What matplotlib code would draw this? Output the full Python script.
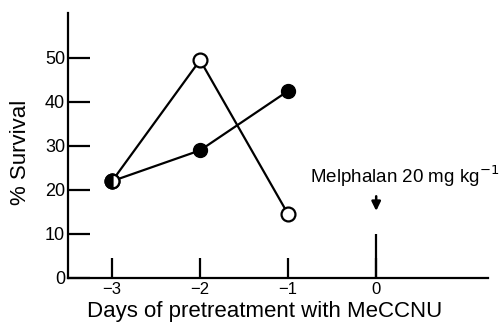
import matplotlib.pyplot as plt

plt.rcParams['font.family'] = ['Liberation Sans', 'DejaVu Sans']

days = [-3, -2, -1]
open_survival = [22, 49.5, 14.5]
filled_survival = [22, 29, 42.5]
x_ticks = [-3, -2, -1, 0]
y_ticks = [0, 10, 20, 30, 40, 50]

fig = plt.figure(figsize=(5.04, 3.27), dpi=100)
ax = fig.add_axes([68/504, 1-278/327, (488-68)/504, (278-13)/327])

ax.plot(days, open_survival, color='black', lw=1.6, marker='o', ms=10,
        mfc='white', mec='black', mew=1.6, zorder=3)
ax.plot(days[1:], filled_survival[1:], color='black', lw=1.6, marker='o', ms=10,
        mfc='black', mec='black', zorder=3)
ax.plot(days[:2], filled_survival[:2], color='black', lw=1.6, zorder=2)
ax.plot(days[0], filled_survival[0], marker='o', ms=10, fillstyle='left',
        mfc='black', mfcalt='white', mec='black', mew=1.6, zorder=4)

ax.set_xlim(-3.5, 1.27)
ax.set_ylim(0, 60.2)
ax.set_xticks(x_ticks)
ax.set_xticklabels(['\u22123', '\u22122', '\u22121', '0'])
ax.set_yticks(y_ticks)
ax.tick_params(axis='x', direction='in', length=14.5, width=1.6, labelsize=12, pad=3)
ax.tick_params(axis='y', direction='in', length=16, width=1.6, labelsize=13, pad=2)
ax.vlines(0, 0, 10, color='black', lw=1.6)

for s in ['top', 'right']:
    ax.spines[s].set_visible(False)
for s in ['left', 'bottom']:
    ax.spines[s].set_linewidth(1.6)

ax.set_xlabel('Days of pretreatment with MeCCNU', fontsize=16)
ax.set_ylabel('% Survival', fontsize=16)
ax.xaxis.set_label_coords(0.467, -0.085, transform=ax.transAxes)
ax.yaxis.set_label_coords(-0.088, 0.475, transform=ax.transAxes)
ax.xaxis.label.set_va('top')

ax.text(-0.75, 21.6, 'Melphalan 20 mg kg$^{-1}$', ha='left', va='baseline', fontsize=13.5)
ax.annotate('', xy=(0, 14.6), xytext=(0, 19.2),
            arrowprops=dict(arrowstyle='-|>,head_length=0.45,head_width=0.22',
                            color='black', lw=1.8, mutation_scale=12))

fig.savefig('out.png', dpi=100)
